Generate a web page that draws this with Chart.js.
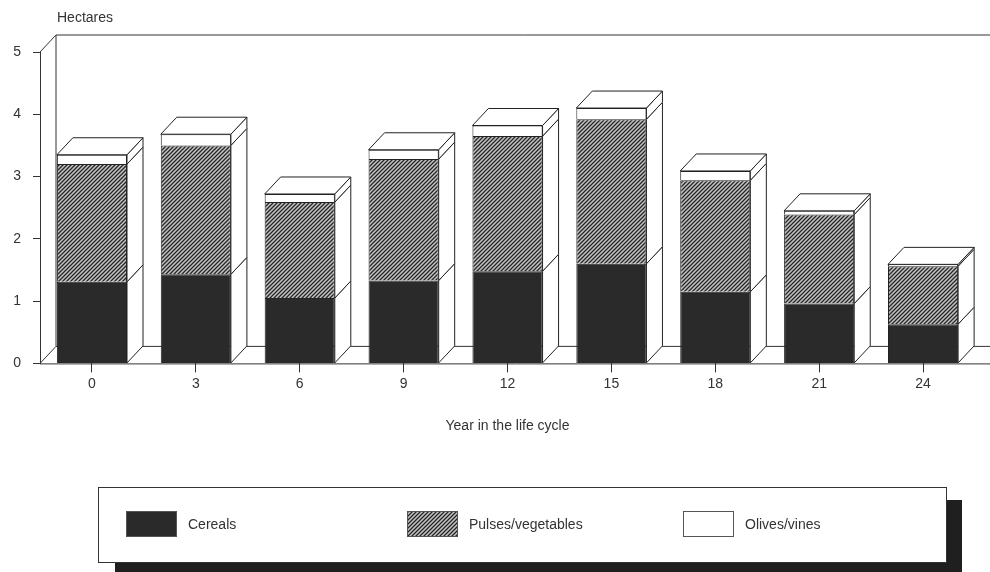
<!DOCTYPE html>
<html>
<head>
<meta charset="utf-8">
<script src="https://cdn.jsdelivr.net/npm/chart.js@4/dist/chart.umd.min.js"></script>
<style>
  html, body { margin: 0; padding: 0; background: #fff; }
  #wrap { width: 990px; height: 572px; }
</style>
</head>
<body>
<div id="wrap"><canvas id="hectares"></canvas></div>
<script>
(function(){
    var years = ['0', '3', '6', '9', '12', '15', '18', '21', '24'];
    var cereals = [1.31, 1.43, 1.05, 1.33, 1.48, 1.60, 1.15, 0.96, 0.63];
    var pulses = [1.89, 2.07, 1.54, 1.95, 2.17, 2.32, 1.79, 1.43, 0.93];
    var olives = [0.15, 0.18, 0.13, 0.15, 0.17, 0.18, 0.15, 0.06, 0.03];
    var yTicks = [0, 1, 2, 3, 4, 5];

    var FONT = "'Liberation Sans', Arial, sans-serif";
    var INK = '#333';
    var DX = 16, DY = 17;   // depth of the 3d effect

    // diagonal hatch for pulses
    function hatch() {
        var s = 4;
        var c = document.createElement('canvas');
        c.width = s; c.height = s;
        var g = c.getContext('2d');
        g.fillStyle = '#c4c4c4';
        g.fillRect(0, 0, s, s);
        g.strokeStyle = '#262626';
        g.lineWidth = 1.3;
        g.beginPath();
        g.moveTo(0, s); g.lineTo(s, 0);
        g.moveTo(-1, 1); g.lineTo(1, -1);
        g.moveTo(s - 1, s + 1); g.lineTo(s + 1, s - 1);
        g.stroke();
        return g.createPattern(c, 'repeat');
    }
    var hatchFill = hatch();

    // back wall + floor behind the bars, side/top faces after them
    const wall = {
        id: 'wall',
        beforeDatasetsDraw(chart) {
            const {ctx, chartArea: a} = chart;
            ctx.save();
            ctx.strokeStyle = INK;
            ctx.lineWidth = 1;
            ctx.beginPath();
            ctx.moveTo(a.left, a.top); ctx.lineTo(a.left + DX, a.top - DY);
            ctx.lineTo(a.right + DX, a.top - DY);
            ctx.moveTo(a.left + DX, a.top - DY); ctx.lineTo(a.left + DX, a.bottom - DY);
            ctx.lineTo(a.right + DX, a.bottom - DY);
            ctx.moveTo(a.left, a.bottom); ctx.lineTo(a.left + DX, a.bottom - DY);
            ctx.moveTo(a.left, a.bottom + 0.5); ctx.lineTo(a.right + DX, a.bottom + 0.5);
            ctx.stroke();
            ctx.restore();
        },
        afterDatasetsDraw(chart) {
            const {ctx} = chart;
            const n = chart.data.labels.length;
            const last = chart.data.datasets.length - 1;
            ctx.save();
            ctx.strokeStyle = '#222';
            ctx.lineWidth = 1;
            ctx.fillStyle = '#fff';
            for (let i = 0; i < n; i++) {
                chart.data.datasets.forEach((ds, d) => {
                    const el = chart.getDatasetMeta(d).data[i];
                    const r = el.x + el.width / 2, l = el.x - el.width / 2;
                    ctx.beginPath();
                    ctx.moveTo(r, el.y); ctx.lineTo(r + DX, el.y - DY);
                    ctx.lineTo(r + DX, el.base - DY); ctx.lineTo(r, el.base);
                    ctx.closePath();
                    ctx.fill(); ctx.stroke();
                    if (d === last) {
                        ctx.beginPath();
                        ctx.moveTo(l, el.y); ctx.lineTo(l + DX, el.y - DY);
                        ctx.lineTo(r + DX, el.y - DY); ctx.lineTo(r, el.y);
                        ctx.closePath();
                        ctx.fill(); ctx.stroke();
                    }
                });
            }
            ctx.restore();
        },
        afterDraw(chart) {
            const {ctx, chartArea: a} = chart;
            ctx.save();
            ctx.fillStyle = INK;
            ctx.font = '14px ' + FONT;
            ctx.textBaseline = 'middle';
            ctx.fillText('Hectares', a.left + 17, 18);

            // legend box with drop shadow
            ctx.fillStyle = '#1f1f1f';
            ctx.fillRect(115, 500, 847, 72);
            ctx.fillStyle = '#fff';
            ctx.fillRect(98, 487, 849, 76);
            ctx.strokeStyle = INK;
            ctx.lineWidth = 1;
            ctx.strokeRect(98.5, 487.5, 848, 75);
            var xs = [126, 407, 683];
            chart.data.datasets.forEach((ds, d) => {
                ctx.fillStyle = ds.backgroundColor;
                ctx.fillRect(xs[d], 511, 51, 26);
                ctx.strokeStyle = '#555';
                ctx.strokeRect(xs[d] + 0.5, 511.5, 50, 25);
                ctx.fillStyle = INK;
                ctx.fillText(ds.label, xs[d] + 62, 525);
            });
            ctx.restore();
        }
    };

    const data = {
        labels: years,
        datasets: [{
            label: 'Cereals',
            data: cereals,
            backgroundColor: '#2a2a2a',
            borderColor: '#222',
            borderWidth: 1
        },{
            label: 'Pulses/vegetables',
            data: pulses,
            backgroundColor: hatchFill,
            borderColor: '#222',
            borderWidth: 1
        },{
            label: 'Olives/vines',
            data: olives,
            backgroundColor: '#ffffff',
            borderColor: '#222',
            borderWidth: 1
        }]
    };

    const config = {
        type: 'bar',
        data,
        options: {
            responsive: true,
            maintainAspectRatio: false,
            animation: false,
            layout: { padding: { top: 52, right: 15, bottom: 137, left: 0 } },
            datasets: { bar: { categoryPercentage: 1, barPercentage: 0.675 } },
            scales: {
                x: {
                    stacked: true,
                    grid: { offset: false, drawOnChartArea: false, tickLength: 9, color: INK },
                    border: { display: false },
                    ticks: { color: INK, padding: 3, font: { family: FONT, size: 14 } },
                    title: {
                        display: true,
                        text: 'Year in the life cycle',
                        color: INK,
                        font: { family: FONT, size: 14 },
                        padding: { top: 23, bottom: 0 }
                    }
                },
                y: {
                    stacked: true,
                    min: 0,
                    max: 5,
                    afterFit: function(s) { s.width = 40; },
                    afterBuildTicks: function(s) { s.ticks = yTicks.map(v => ({ value: v })); },
                    grid: { drawOnChartArea: false, tickLength: 7, color: INK },
                    border: { display: true, color: INK },
                    ticks: { color: INK, padding: 12, font: { family: FONT, size: 14 } }
                }
            },
            plugins: {
                legend: { display: false },
                tooltip: { enabled: false }
            }
        },
        plugins: [wall]
    };

    const myChart = new Chart(document.getElementById('hectares'), config);
})();
</script>
</body>
</html>
